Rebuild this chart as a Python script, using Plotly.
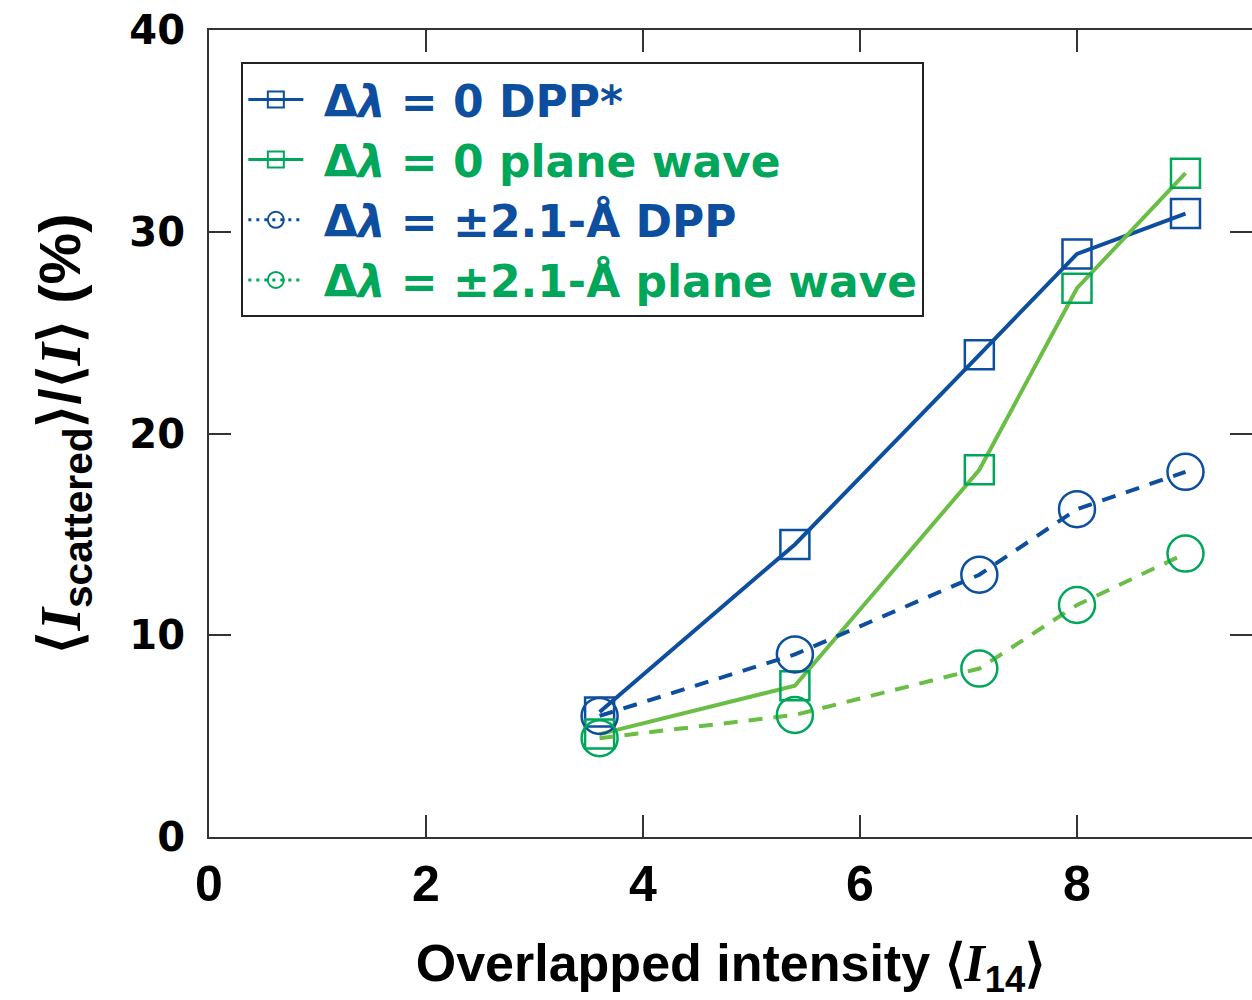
import plotly.graph_objects as go

# ---- data ----
x_vals = [3.6, 5.4, 7.1, 8.0, 9.0]
dpp_0 = [6.2, 14.5, 23.9, 28.9, 30.9]
plane_0 = [5.1, 7.5, 18.2, 27.2, 32.9]
dpp_21 = [6.0, 9.05, 13.0, 16.25, 18.1]
plane_21 = [4.9, 6.05, 8.35, 11.5, 14.05]

x_ticks = [0, 2, 4, 6, 8]
y_ticks = [0, 10, 20, 30, 40]

BLUE = "#0d4e9e"
GREEN_M = "#00a65a"
GREEN_L = "#6abd45"

series = [
    ("Δ<i>λ</i> = 0 DPP*", dpp_0, BLUE, BLUE, "solid", "square-open", 29),
    ("Δ<i>λ</i> = 0 plane wave", plane_0, GREEN_L, GREEN_M, "solid", "square-open", 29),
    ("Δ<i>λ</i> = ±2.1-Å DPP", dpp_21, BLUE, BLUE, "14px,11px", "circle-open", 36),
    ("Δ<i>λ</i> = ±2.1-Å plane wave", plane_21, GREEN_L, GREEN_M, "14px,11px", "circle-open", 36),
]

fig = go.Figure()
for name, ys, lc, mc, dash, sym, ms in series:
    fig.add_trace(go.Scatter(x=x_vals, y=ys, mode="lines",
                             line=dict(color=lc, width=4, dash=dash),
                             showlegend=False, hoverinfo="skip"))
    fig.add_trace(go.Scatter(x=x_vals, y=ys, mode="markers",
                             marker=dict(symbol=sym, size=ms, color=mc,
                                         line=dict(color=mc, width=2.5)),
                             showlegend=False))
for name, ys, lc, mc, dash, sym, ms in series:
    fig.add_trace(go.Scatter(x=[None], y=[None], mode="lines+markers",
                             name=f"<span style='color:{mc}'> {name}</span>",
                             line=dict(color=mc, width=3, dash="solid" if dash == "solid" else "3px,5px"),
                             marker=dict(symbol=sym, size=ms, color=mc,
                                         line=dict(color=mc, width=2))))

tick_style = dict(ticks="inside", ticklen=22, tickwidth=1.5, tickcolor="#333333",
                  showgrid=False, zeroline=False)
SERIF_I = "<span style='font-family:Liberation Serif'><i>I</i></span>"

fig.update_xaxes(range=[0, 9.613], tickvals=x_ticks, ticktext=[str(v) for v in x_ticks],
                 showline=True, linecolor="#333333", linewidth=2, mirror="ticks",
                 tickfont=dict(family="Liberation Sans Narrow, Liberation Sans", size=50,
                               color="black", weight="bold"),
                 ticklabelstandoff=2,
                 title=dict(text=f"Overlapped intensity ⟨{SERIF_I}<sub>14</sub>⟩",
                            font=dict(family="Liberation Sans Narrow, Liberation Sans", size=52,
                                      color="black", weight="bold"),
                            standoff=34),
                 **tick_style)
fig.update_yaxes(range=[0, 40], tickvals=y_ticks, ticktext=[str(v) for v in y_ticks],
                 showline=True, linecolor="#333333", linewidth=2, mirror=False,
                 tickfont=dict(family="DejaVu Sans", size=40, color="black", weight="bold"),
                 ticklabelstandoff=14,
                 title=dict(text=f"⟨{SERIF_I}<sub>scattered</sub>⟩/⟨{SERIF_I}⟩ (%)",
                            font=dict(family="Liberation Sans Narrow, Liberation Sans", size=58,
                                      color="black", weight="bold"),
                            standoff=30),
                 **tick_style)

fig.update_layout(
    width=1252, height=1000,
    margin=dict(l=209, r=0, t=30, b=163),
    paper_bgcolor="white", plot_bgcolor="white",
    yaxis2=dict(overlaying="y", side="right", range=[0, 40], tickvals=y_ticks,
                showticklabels=False, showline=False, **tick_style),
    legend=dict(x=0.031, y=0.96, xanchor="left", yanchor="top",
                bordercolor="#222222", borderwidth=2, bgcolor="white",
                font=dict(family="DejaVu Sans", size=44, weight="bold"),
                itemwidth=55, tracegroupgap=0),
)
# invisible anchor trace for the mirrored right-hand ticks
fig.add_trace(go.Scatter(x=[None], y=[None], yaxis="y2", showlegend=False, hoverinfo="skip"))

fig.write_html("out.html")
